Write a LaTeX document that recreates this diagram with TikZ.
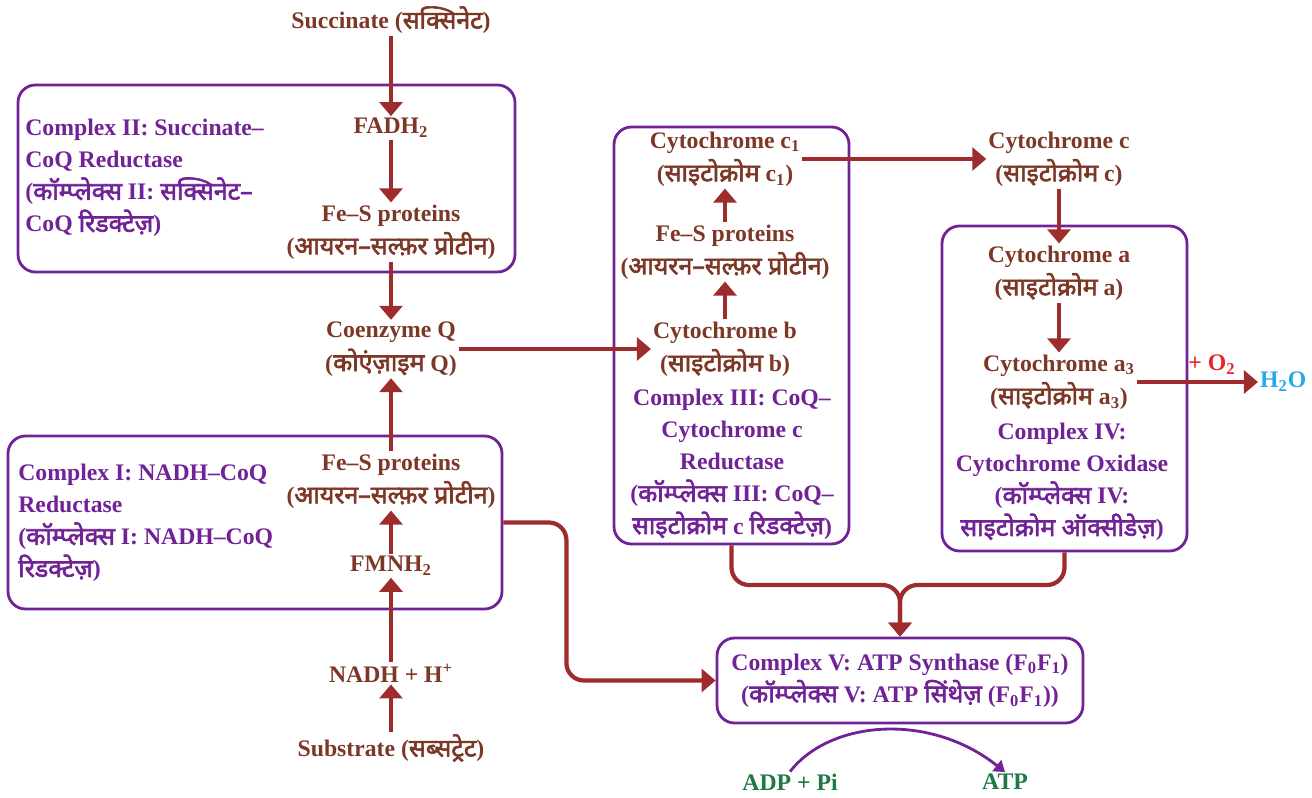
\documentclass[tikz,border=0pt]{standalone}
\usepackage{fontspec}
\setmainfont{Liberation Serif}
\newfontfamily\hinfont[Script=Devanagari,Scale=1.05,FakeBold=2.5]{Noto Sans}
\newcommand{\hin}[1]{{\hinfont #1}}
\usetikzlibrary{positioning, arrows.meta, fit}

\definecolor{chembrown}{RGB}{125,55,38}
\definecolor{cxpurple}{RGB}{112,34,150}
\definecolor{flowred}{RGB}{158,44,44}
\definecolor{atpgreen}{RGB}{28,122,66}
\definecolor{waterblue}{RGB}{38,170,235}
\definecolor{oxred}{RGB}{232,38,46}

\tikzset{
  chem/.style={text=chembrown, font=\bfseries\fontsize{13.5}{19}\selectfont, align=center, inner sep=1pt},
  cxlabel/.style={text=cxpurple, font=\bfseries\fontsize{13.5}{18.3}\selectfont, align=left, inner sep=0pt},
  cxbox/.style={draw=cxpurple, line width=1.6pt, rounded corners=0.35cm, inner sep=0pt},
  flow/.style={draw=flowred, line width=2.4pt, rounded corners=0.35cm, -{Triangle[length=8pt,width=13pt]}},
}

\begin{document}
\begin{tikzpicture}[x=0.02cm, y=-0.02cm]
  \useasboundingbox (0,0) rectangle (1312,798);

  \node[chem] (succ) at (391,20) {Succinate (\hin{सक्सिनेट})};
  \node[chem] (fadh) at (391,128) {FADH\textsubscript{2}};
  \node[chem] (fes2) at (391,232) {Fe–S proteins\\(\hin{आयरन–सल्फ़र प्रोटीन})};
  \node[chem] (coq) at (391,349) {Coenzyme Q\\(\hin{कोएंज़ाइम} Q)};
  \node[chem] (fes1) at (391,481) {Fe–S proteins\\(\hin{आयरन–सल्फ़र प्रोटीन})};
  \node[chem] (fmn) at (391,566) {FMNH\textsubscript{2}};
  \node[chem] (nadh) at (391,673) {NADH + H\textsuperscript{+}};
  \node[chem] (subs) at (391,748) {Substrate (\hin{सब्सट्रेट})};

  \node[cxlabel, anchor=west] (c2lab) at (25,178) {Complex II: Succinate–\\CoQ Reductase\\(\hin{कॉम्प्लेक्स} II: \hin{सक्सिनेट–}\\CoQ \hin{रिडक्टेज़})};
  \node[cxbox, fit={(18,85) (515,272)}] (c2) {};
  \node[cxlabel, anchor=west] (c1lab) at (18,523) {Complex I: NADH–CoQ\\Reductase\\(\hin{कॉम्प्लेक्स} I: NADH–CoQ\\\hin{रिडक्टेज़})};
  \node[cxbox, fit={(8,436) (502,609)}] (c1) {};

  \node[chem] (cytc1) at (725,159) {Cytochrome c\textsubscript{1}\\(\hin{साइटोक्रोम} c\textsubscript{1})};
  \node[chem] (fes3) at (725,252) {Fe–S proteins\\(\hin{आयरन–सल्फ़र प्रोटीन})};
  \node[chem] (cytb) at (725,349) {Cytochrome b\\(\hin{साइटोक्रोम} b)};
  \node[cxlabel, align=center] (c3lab) at (732,464) {Complex III: CoQ–\\Cytochrome c\\Reductase\\(\hin{कॉम्प्लेक्स} III: CoQ–\\\hin{साइटोक्रोम} c \hin{रिडक्टेज़})};
  \node[cxbox, fit={(614,127) (849,544)}] (c3) {};

  \node[chem] (cytc) at (1059,159) {Cytochrome c\\(\hin{साइटोक्रोम} c)};
  \node[chem] (cyta) at (1059,273) {Cytochrome a\\(\hin{साइटोक्रोम} a)};
  \node[chem] (cyta3) at (1059,382) {Cytochrome a\textsubscript{3}\\(\hin{साइटोक्रोम} a\textsubscript{3})};
  \node[cxlabel, align=center] (c4lab) at (1062,482) {Complex IV:\\Cytochrome Oxidase\\(\hin{कॉम्प्लेक्स} IV:\\\hin{साइटोक्रोम ऑक्सीडेज़})};
  \node[cxbox, fit={(942,226) (1187,551)}] (c4) {};
  \node[chem, text=waterblue, anchor=west] (water) at (1258,382) {H\textsubscript{2}O};

  \node[cxbox, cxlabel, align=center, rounded corners=0.35cm, minimum width=7.32cm, minimum height=1.7cm] (c5) at (900,680.5) {Complex V: ATP Synthase (F\textsubscript{0}F\textsubscript{1})\\(\hin{कॉम्प्लेक्स} V: ATP \hin{सिंथेज़} (F\textsubscript{0}F\textsubscript{1}))};
  \node[chem, text=atpgreen] (adp) at (790,782) {ADP + Pi};
  \node[chem, text=atpgreen] (atp) at (1005,782) {ATP};

  \draw[flow] (succ) -- (fadh);
  \draw[flow] (fadh) -- (fes2);
  \draw[flow] (fes2) -- (coq);
  \draw[flow] (subs) -- (nadh);
  \draw[flow] (nadh) -- (fmn);
  \draw[flow] (fmn) -- (fes1);
  \draw[flow] (fes1) -- (coq);
  \draw[flow] (coq) -- (cytb);
  \draw[flow] (cytb) -- (fes3);
  \draw[flow] (fes3) -- (cytc1);
  \draw[flow] (cytc1) -- (cytc);
  \draw[flow] (cytc) -- (cyta);
  \draw[flow] (cyta) -- (cyta3);
  \draw[flow] (cyta3) -- node[above, pos=0.62, text=oxred, font=\bfseries\fontsize{13.5}{14}\selectfont] {+ O\textsubscript{2}} (water);
  \draw[flow] (c3.south) |- (900,585) -- (c5.north);
  \draw[flow] (c4.south) |- (900,585) -- (c5.north);
  \draw[flow] (c1.east) -- ++(63,0) |- (c5.west);
  \draw[cxpurple, line width=1.6pt, -{Triangle[length=6pt,width=8pt]}] (adp.north) .. controls (830,720) and (930,712) .. (atp.north);

\end{tikzpicture}
\end{document}
